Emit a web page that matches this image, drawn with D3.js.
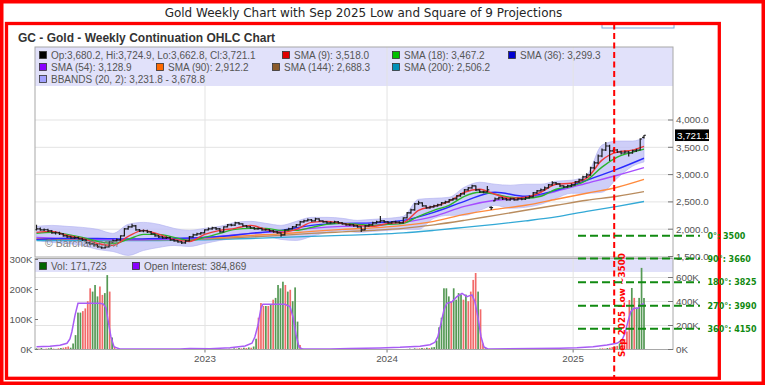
<!DOCTYPE html>
<html><head><meta charset="utf-8">
<script src="https://cdn.jsdelivr.net/npm/d3@7/dist/d3.min.js"></script>
<style>html,body{margin:0;padding:0;background:#fff;}svg{display:block;}</style>
</head><body>
<svg id="chart" width="765" height="385"></svg>
<script>
// ---------------- DATA ----------------
const opens = [1990,2005,1987,1990,1969,1932,1935,1914,1877,1859,
 1841,1845,1822,1804,1749,1731,1712,1676,1658,1676,
 1767,1786,1804,1877,2005,2042,2060,1987,1969,1972,
 1951,1914,1877,1859,1841,1845,1804,1786,1767,1749,
 1786,1859,1896,1914,1932,1987,2005,2024,2005,1951,
 2042,2078,2075,2115,2097,2060,2042,2024,2005,2010,
 1987,1990,1969,1951,1932,1896,1987,2005,2042,2078,
 2133,2152,2170,2152,2188,2152,2133,2115,2118,2133,
 2115,2097,2078,2080,2060,2042,1987,2060,2078,2115,
 2133,2152,2133,2115,2133,2130,2115,2207,2298,2353,
 2463,2481,2426,2390,2408,2426,2445,2481,2499,2536,
 2554,2609,2646,2719,2756,2792,2719,2682,2685,2400,
 2520,2554,2573,2554,2536,2554,2536,2554,2550,2573,
 2591,2664,2701,2719,2756,2811,2847,2829,2792,2774,
 2792,2811,2865,2902,2957,2994,3122,3213,3341,3451,
 3524,3433,3451,3414,3396,3414,3396,3433,3451,3680.2];
const highs = [2080,2030,2015,2010,1985,1960,1955,1930,1895,1880,
 1870,1860,1845,1815,1770,1750,1725,1695,1700,1780,
 1810,1830,1890,2020,2065,2100,2075,2005,1995,1990,
 1965,1925,1895,1875,1865,1860,1820,1800,1785,1800,
 1875,1915,1935,1950,2000,2030,2045,2040,2020,2055,
 2095,2100,2135,2130,2110,2075,2060,2040,2030,2025,
 2010,2005,1985,1965,1945,2000,2025,2060,2095,2150,
 2175,2195,2185,2210,2200,2165,2150,2140,2155,2150,
 2130,2110,2100,2095,2075,2055,2075,2100,2135,2155,
 2243,2170,2150,2150,2155,2145,2220,2315,2375,2480,
 2520,2495,2440,2430,2450,2465,2500,2520,2555,2575,
 2625,2665,2735,2775,2815,2800,2730,2705,2790,2420,
 2580,2595,2590,2570,2575,2570,2575,2575,2595,2615,
 2680,2720,2745,2780,2830,2880,2865,2840,2805,2815,
 2835,2885,2925,2980,3025,3145,3245,3370,3480,3597,
 3545,3480,3470,3435,3440,3430,3455,3475,3665,3724.9];
const lows = [1975,1970,1965,1950,1915,1905,1895,1860,1840,1825,
 1820,1800,1785,1735,1710,1690,1660,1640,1645,1665,
 1750,1770,1790,1865,1990,2025,1970,1950,1945,1930,
 1900,1860,1840,1825,1820,1790,1770,1750,1730,1735,
 1775,1845,1880,1900,1920,1975,1990,1985,1935,1940,
 2030,2055,2060,2080,2045,2025,2010,1990,1990,1970,
 1970,1955,1935,1915,1860,1885,1975,1995,2030,2065,
 2120,2140,2135,2140,2135,2120,2100,2100,2105,2100,
 2080,2065,2060,2045,2025,1951,1980,2045,2065,2100,
 2120,2120,2100,2100,2110,2100,2105,2195,2285,2340,
 2445,2410,2375,2375,2395,2410,2430,2465,2485,2520,
 2540,2595,2630,2705,2740,2700,2665,2660,2670,2353,
 2510,2540,2535,2520,2520,2520,2525,2530,2535,2560,
 2580,2650,2690,2705,2745,2795,2810,2775,2755,2760,
 2775,2800,2850,2890,2940,2980,3100,3195,3320,3430,
 3250,3410,3395,3370,3380,3330,3380,3415,3440,3662.8];
const closes = [2005,1987,1990,1969,1932,1935,1914,1877,1859,1841,
 1845,1822,1804,1749,1731,1712,1676,1658,1676,1767,
 1786,1804,1877,2005,2042,2060,1987,1969,1972,1951,
 1914,1877,1859,1841,1845,1804,1786,1767,1749,1786,
 1859,1896,1914,1932,1987,2005,2024,2005,1951,2042,
 2078,2075,2115,2097,2060,2042,2024,2005,2010,1987,
 1990,1969,1951,1932,1896,1987,2005,2042,2078,2133,
 2152,2170,2152,2188,2152,2133,2115,2118,2133,2115,
 2097,2078,2080,2060,2042,1987,2060,2078,2115,2133,
 2152,2133,2115,2133,2130,2115,2207,2298,2353,2463,
 2481,2426,2390,2408,2426,2445,2481,2499,2536,2554,
 2609,2646,2719,2756,2792,2719,2682,2685,2719,2395,
 2554,2573,2554,2536,2554,2536,2554,2550,2573,2591,
 2664,2701,2719,2756,2811,2847,2829,2792,2774,2792,
 2811,2865,2902,2957,2994,3122,3213,3341,3451,3524,
 3433,3451,3414,3396,3414,3396,3433,3451,3652,3721.1];

// moving averages: sampled at bar indices
const idx4 = [0,4,8,12,16,20,24,28,32,36,40,44,48,52,56,60,64,68,72,76,80,84,88,92,96,100,104,108,112,116,120,124,128,132,136,140,144,148,152,156,159];
const idx8 = [0,8,16,24,32,40,48,56,64,72,80,88,96,104,112,120,128,136,144,152,159];
const sma9 = [1941,1960,1886,1831,1739,1703,1868,1978,1905,1813,1776,1905,1978,2015,2070,1997,1941,1997,2125,2144,2107,2070,2052,2107,2125,2346,2419,2511,2677,2732,2640,2566,2585,2677,2824,2842,2934,3265,3412,3449,3518.0];
const sma18 = [1923,1941,1905,1850,1776,1739,1813,1905,1905,1850,1794,1850,1923,1997,2015,2015,1978,1978,2033,2089,2107,2089,2070,2089,2107,2236,2346,2438,2603,2677,2640,2585,2566,2603,2732,2787,2897,3136,3320,3412,3467.2];
const bbUpper = [2052,2070,2052,2033,1997,1923,2089,2125,2089,2015,1978,2015,2052,2125,2144,2107,2070,2144,2217,2217,2199,2162,2180,2199,2236,2548,2566,2585,2769,2860,2824,2805,2824,2824,2879,2897,2989,3540,3614,3614,3678.8];
const bbLower = [1794,1758,1739,1703,1629,1592,1519,1611,1666,1703,1684,1739,1794,1831,1850,1868,1813,1794,1868,1941,1978,1941,1960,1978,1997,1997,2199,2254,2254,2346,2438,2383,2401,2456,2566,2658,2658,2677,2934,3155,3231.8];
const sma36 = [1813,1831,1831,1822,1831,1840,1868,1923,1978,2070,2107,2116,2162,2309,2511,2677,2603,2713,2897,3099,3299.3];
const sma54 = [1850,1831,1813,1804,1813,1822,1868,1923,1960,2015,2052,2070,2125,2236,2419,2530,2566,2695,2842,2989,3128.9];
const sma90 = [1831,1822,1813,1813,1813,1822,1850,1886,1914,1960,1997,2024,2070,2144,2272,2364,2438,2548,2658,2769,2912.2];
const sma144 = [1813,1813,1813,1804,1804,1813,1831,1859,1886,1923,1951,1978,2015,2079,2162,2254,2346,2438,2530,2603,2688.3];
const sma200 = [1794,1794,1794,1794,1794,1804,1813,1831,1850,1868,1886,1905,1932,1978,2033,2089,2153,2226,2327,2419,2506.2];

// volume (thousands) and up/down flags
const volK = [4,3,5,2,3,4,6,3,2,4,5,6,
 8,10,6,20,
 48,123,123,128,137,161,204,193,215,177,210,182,188,248,193,40,
 10,
 1,0,1,0,0,1,0,0,1,0, 0,0,1,0,0,0,1,0,0,0, 1,0,0,0,0,1,0,0,0,1, 0,0,0,1,0,0,0,1,0,0, 1,0,0,1,0,
 2,3,2,4,3,5,4,6,5,7,6,
 10,36,106,155,145,145,145,150,166,172,215,204,226,215,193,199,161,207,93,15,3,
 1,0,0,1,0,0,0,1,0,0, 0,1,0,0,0,0,1,0,0,0, 1,0,0,0,1,0,0,0,0,1, 0,0,1,0,0,0,1,0,0,1, 0,1,
 2,3,2,4,3,4,5,4,6,5,7,8,
 30,74,106,204,204,177,161,204,166,188,183,166,183,161,193,232,255,193,134,20,4,
 1,0,0,1,0,0,0,1,0,0, 0,1,0,0,0,0,1,0,0,0, 1,0,0,0,1,0,0,0,0,1, 0,0,1,0,0,0,1,0,0,1, 0,1,0,0,1,
 2,3,4,3,5,6,8,10,
 12,20,30,35,60,165,205,172,140,172,272,171.723];
const volDir = "grgrrggrgrgr" + "rrgg" + "gggrrrrgggrrggrg" + "r" +
 "grrgrggrgrgrrgrggrgrgrrgrggrgrgrrgrggrgrgrrgr" + "rgrgrgrgrgr" +
 "ggrrrgrgrggggrgrgggrg" + "grrgrggrgrgrrgrggrgrgrrgrggrgrgrrgrggrgrgr" +
 "rgrgrrgrgrgg" + "ggggggrggggrgrrrrgrrg" +
 "grrgrggrgrgrrgrggrgrgrrgrggrgrgrrgrggrgrgrrgr" + "rgrrgrrg" + "rgrrrrgrgggg";
// open interest (thousands) at positions on the volume bar grid
const oiPos = [0,5.5,9.6,12.5,13.7,14.5,15.8,17,26,27.3,28.5,29.3,30.5,31.8,34.2,58.8,62.9,71.1,79.3,85.5,88.3,89.5,90.8,92,92.8,101.8,103.9,105.1,106.4,107.6,108.8,120.3,128.5,140.8,149,157.2,161.3,163.3,164.5,165.8,167,168.2,170.3,172.3,174.4,176.4,178.5,179.7,180.9,182.2,183.4,185,214.5,221.5,228.1,233.8,237.9,240,241.2,242.4,243.6,244.9,246.5,247.7,249];
const oiK = [23,28,36,52,88,148,287,385,385,380,345,246,107,21,5,5,9,7,15,29,52,104,204,345,377,377,357,273,121,21,5,5,8,12,18,28,40,60,107,220,330,385,398,440,468,440,455,398,273,107,21,5,10,14,23,37,52,79,135,232,315,343,343,371,384.869];

// ticks / labels
const priceTicks = [1500,2000,2500,3000,3500,4000];
const volTicks = [0,100,200,300];
const oiTicks = [0,200,400,600];
const yearLabels = ["2023","2024","2025"];
const yearPos = [44.1,91.75,140.45];
// Square of 9 projections
const sq9Angles = ["0°","90°","180°","270°","360°"];
const sq9Prices = [3500,3660,3825,3990,4150];
const sepLowPos = 151.2;
const sepLowLabel = "Sep 2025 Low ~3500";

// ---------------- DRAW ----------------
const svg = d3.select("#chart");
const SANS = "'Liberation Sans', Arial, sans-serif";
const DJV = "'DejaVu Sans', sans-serif";
svg.append("rect").attr("width",765).attr("height",385).attr("fill","#fff");

const PL=35, PR=673, PT=47, PB=257, VT=258.5, VB=349.5;
const xP = d3.scaleLinear().domain([0, closes.length-1]).range([36.5, 644]);
const yP = d3.scaleLinear().domain([1500,4000]).range([256.5,120]);
const xV = d3.scaleLinear().domain([0, volK.length-1]).range([36.5, 644]);
const yV = d3.scaleLinear().domain([0,300]).range([VB,259.5]);
const yOI = d3.scaleLinear().domain([0,600]).range([VB,277.5]);
const fmtP = d3.format(",.1f");
const fmtI = d3.format(",");

const defs = svg.append("defs");
defs.append("clipPath").attr("id","cp").append("rect").attr("x",PL).attr("y",PT).attr("width",PR-PL).attr("height",PB-PT);
defs.append("clipPath").attr("id","cv").append("rect").attr("x",PL).attr("y",VT).attr("width",PR-PL).attr("height",VB-VT);

svg.append("text").attr("x",18).attr("y",41.5).attr("font-family",SANS).attr("font-weight","bold")
  .attr("font-size",12).attr("fill","#333").text("GC - Gold - Weekly Continuation OHLC Chart");

// ---- price panel ----
const gp = svg.append("g");
gp.append("rect").attr("x",PL).attr("y",PT).attr("width",PR-PL).attr("height",39).attr("fill","#e1e1fa");
gp.selectAll("line.hg").data(priceTicks.filter(d=>d>1500)).join("line").attr("class","hg")
  .attr("x1",PL).attr("x2",PR).attr("y1",d=>yP(d)).attr("y2",d=>yP(d)).attr("stroke","#e3e3e3");
gp.selectAll("line.vg").data(yearPos).join("line").attr("class","vg")
  .attr("x1",d=>xP(d)).attr("x2",d=>xP(d)).attr("y1",PT).attr("y2",PB).attr("stroke","#e3e3e3");

const gc = gp.append("g").attr("clip-path","url(#cp)");
const bbData = idx4.map((p,k)=>({p,u:bbUpper[k],l:bbLower[k]}));
gc.append("path").datum(bbData)
  .attr("d", d3.area().curve(d3.curveMonotoneX).x(d=>xP(d.p)).y0(d=>yP(d.l)).y1(d=>yP(d.u)))
  .attr("fill","#c0c0f6").attr("fill-opacity",0.78).attr("stroke","#b0b0f0").attr("stroke-width",0.6);
gp.append("text").attr("x",45).attr("y",246.5).attr("font-family",SANS).attr("font-size",10.5)
  .attr("fill","#808080").text("© Barchart.com");

const maSeries = [
  {v:sma200, idx:idx8, c:"#33a9d6"},
  {v:sma144, idx:idx8, c:"#b98c5e"},
  {v:sma90, idx:idx8, c:"#ff8a3c"},
  {v:sma54, idx:idx8, c:"#a64dff"},
  {v:sma36, idx:idx8, c:"#2a2aff"},
  {v:sma18, idx:idx4, c:"#2bb52b"},
  {v:sma9, idx:idx4, c:"#f03a3a"}
];
const maLine = d3.line().curve(d3.curveMonotoneX).x(d=>xP(d[0])).y(d=>yP(d[1]));
maSeries.forEach(s=>{
  gc.append("path").datum(s.idx.map((p,k)=>[p,s.v[k]])).attr("d",maLine)
    .attr("fill","none").attr("stroke",s.c).attr("stroke-width",1.4);
});
const bars = closes.map((c,i)=>({i,o:opens[i],h:highs[i],l:lows[i],c}));
gc.selectAll("path.bar").data(bars).join("path").attr("class","bar")
  .attr("d",d=>{const x=xP(d.i);return `M${x},${yP(d.h)}V${yP(d.l)}M${x-1.9},${yP(d.o)}H${x}M${x},${yP(d.c)}H${x+1.9}`;})
  .attr("stroke","#1a1a1a").attr("stroke-width",1.2).attr("fill","none");

gp.append("rect").attr("x",PL).attr("y",PT).attr("width",PR-PL).attr("height",PB-PT)
  .attr("fill","none").attr("stroke","#a8a8a8");

// price legend
const last = closes.length-1;
const legendEntries = [
  {t:`Op:${fmtP(opens[last])}, Hi:${fmtP(highs[last])}, Lo:${fmtP(lows[last])}, Cl:${fmtP(closes[last])}`, c:"#000"},
  {t:`SMA (9): ${fmtP(sma9[sma9.length-1])}`, c:"#e00000"},
  {t:`SMA (18): ${fmtP(sma18[sma18.length-1])}`, c:"#00c000"},
  {t:`SMA (36): ${fmtP(sma36[sma36.length-1])}`, c:"#0000d0"},
  {t:`SMA (54): ${fmtP(sma54[sma54.length-1])}`, c:"#8a00ff"},
  {t:`SMA (90): ${fmtP(sma90[sma90.length-1])}`, c:"#ff6a00"},
  {t:`SMA (144): ${fmtP(sma144[sma144.length-1])}`, c:"#8b5a2b"},
  {t:`SMA (200): ${fmtP(sma200[sma200.length-1])}`, c:"#0090b8"},
  {t:`BBANDS (20, 2): ${fmtP(bbLower[bbLower.length-1])} - ${fmtP(bbUpper[bbUpper.length-1])}`, c:"#a0a0ff"}
];
const legendPos = [[39,55],[282,55],[392,55],[508,55],[39,67],[156,67],[272,67],[392,67],[39,79]];
legendEntries.forEach((e,k)=>{
  const [x,y]=legendPos[k];
  gp.append("rect").attr("x",x+0.5).attr("y",y-3.5).attr("width",7).attr("height",7)
    .attr("fill",e.c).attr("stroke","#333").attr("stroke-width",0.8);
  gp.append("text").attr("x",x+12).attr("y",y+3.5).attr("font-family",SANS).attr("font-size",10)
    .attr("fill","#555").text(e.t);
});
// right price axis
priceTicks.forEach(t=>{
  gp.append("line").attr("x1",668).attr("x2",PR).attr("y1",yP(t)).attr("y2",yP(t)).attr("stroke","#777");
  gp.append("text").attr("x",676).attr("y",yP(t)+3.4).attr("font-family",SANS).attr("font-size",9.8)
    .attr("fill","#555").text(fmtP(t));
});
const ly = yP(closes[last]);
gp.append("rect").attr("x",675).attr("y",ly-5.8).attr("width",34).attr("height",11.6).attr("fill","#000");
gp.append("text").attr("x",677).attr("y",ly+3.5).attr("font-family",SANS).attr("font-size",9.8)
  .attr("fill","#fff").text(fmtP(closes[last]));

// ---- volume panel ----
const gv = svg.append("g");
gv.append("rect").attr("x",PL).attr("y",VT).attr("width",PR-PL).attr("height",13.5).attr("fill","#e1e1fa");
gv.selectAll("line.hg").data(oiTicks.filter(d=>d>0)).join("line").attr("class","hg")
  .attr("x1",PL).attr("x2",PR).attr("y1",d=>yOI(d)).attr("y2",d=>yOI(d)).attr("stroke","#e3e3e3");
gv.selectAll("line.vg").data(yearPos).join("line").attr("class","vg")
  .attr("x1",d=>xP(d)).attr("x2",d=>xP(d)).attr("y1",VT).attr("y2",VB).attr("stroke","#e3e3e3");
const gvc = gv.append("g").attr("clip-path","url(#cv)");
gvc.selectAll("rect.vb").data(volK.map((v,j)=>({j,v,up:volDir[j]==="g"}))).join("rect").attr("class","vb")
  .attr("x",d=>xV(d.j)-0.85).attr("width",1.7)
  .attr("y",d=>yV(d.v)).attr("height",d=>VB-yV(d.v))
  .attr("fill",d=>d.up?"#559955":"#f26a6a");
gvc.append("path").datum(oiPos.map((p,k)=>[p,oiK[k]]))
  .attr("d",d3.line().x(d=>xV(d[0])).y(d=>yOI(d[1])))
  .attr("fill","none").attr("stroke","#a85cf5").attr("stroke-width",1.5);
gv.append("rect").attr("x",PL).attr("y",VT).attr("width",PR-PL).attr("height",VB-VT)
  .attr("fill","none").attr("stroke","#a8a8a8");
// volume legend
[[`Vol: ${fmtI(Math.round(volK[volK.length-1]*1000))}`,"#006400",39],
 [`Open Interest: ${fmtI(Math.round(oiK[oiK.length-1]*1000))}`,"#8a00ff",132]].forEach(([t,c,x])=>{
  gv.append("rect").attr("x",x+0.5).attr("y",262.5).attr("width",7).attr("height",7)
    .attr("fill",c).attr("stroke","#333").attr("stroke-width",0.8);
  gv.append("text").attr("x",x+12).attr("y",269.5).attr("font-family",SANS).attr("font-size",10)
    .attr("fill","#555").text(t);
});
volTicks.forEach(t=>{
  gv.append("line").attr("x1",PL).attr("x2",PL+3).attr("y1",yV(t)).attr("y2",yV(t)).attr("stroke","#777");
  gv.append("text").attr("x",32.5).attr("y",yV(t)+3.4).attr("text-anchor","end").attr("font-family",SANS)
    .attr("font-size",9.8).attr("fill","#555").text(t+"K");
});
oiTicks.forEach(t=>{
  gv.append("line").attr("x1",668).attr("x2",PR).attr("y1",yOI(t)).attr("y2",yOI(t)).attr("stroke","#777");
  gv.append("text").attr("x",676).attr("y",yOI(t)+3.4).attr("font-family",SANS).attr("font-size",9.8)
    .attr("fill","#555").text(t+"K");
});
yearPos.forEach((p,k)=>{
  gv.append("line").attr("x1",xP(p)).attr("x2",xP(p)).attr("y1",VB).attr("y2",VB+3).attr("stroke","#777");
  gv.append("text").attr("x",xP(p)).attr("y",362).attr("text-anchor","middle").attr("font-family",SANS)
    .attr("font-size",9.8).attr("fill","#555").text(yearLabels[k]);
});

// ---- matplotlib overlay ----
svg.append("rect").attr("x",602).attr("y",23).attr("width",72).attr("height",5)
  .attr("fill","#fff").attr("stroke","#7aa6dc").attr("stroke-width",1);
svg.append("rect").attr("x",6.5).attr("y",23.5).attr("width",712.8).attr("height",354.8)
  .attr("fill","none").attr("stroke","#ff0000").attr("stroke-width",3.3);
svg.append("rect").attr("x",1.75).attr("y",1.75).attr("width",761.5).attr("height",381.5)
  .attr("fill","none").attr("stroke","#ff0000").attr("stroke-width",3.5);
svg.append("text").attr("x",363.5).attr("y",17).attr("text-anchor","middle").attr("font-family",DJV)
  .attr("font-size",12).attr("fill","#262626").text("Gold Weekly Chart with Sep 2025 Low and Square of 9 Projections");

const sx = xP(sepLowPos);
svg.append("line").attr("x1",sx).attr("x2",sx).attr("y1",23.5).attr("y2",378)
  .attr("stroke","#ff0000").attr("stroke-width",2).attr("stroke-dasharray","6,3.5");
svg.append("text").attr("transform",`translate(${sx+11},357) rotate(-90)`).attr("font-family",DJV)
  .attr("font-weight","bold").attr("font-size",8.8).attr("fill","#ff0000").text(sepLowLabel);

const ySq = d3.scaleLinear().domain([sq9Prices[0], sq9Prices[sq9Prices.length-1]]).range([235.7,328.7]);
sq9Prices.forEach((p,k)=>{
  svg.append("line").attr("x1",578).attr("x2",700).attr("y1",ySq(p)).attr("y2",ySq(p))
    .attr("stroke","#118a11").attr("stroke-width",2).attr("stroke-dasharray","8,4");
  svg.append("text").attr("x",707.5).attr("y",ySq(p)+3).attr("font-family",DJV).attr("font-weight","bold")
    .attr("font-size",8).attr("fill","#118a11").text(`${sq9Angles[k]}: ${p}`);
});
</script>
</body></html>
